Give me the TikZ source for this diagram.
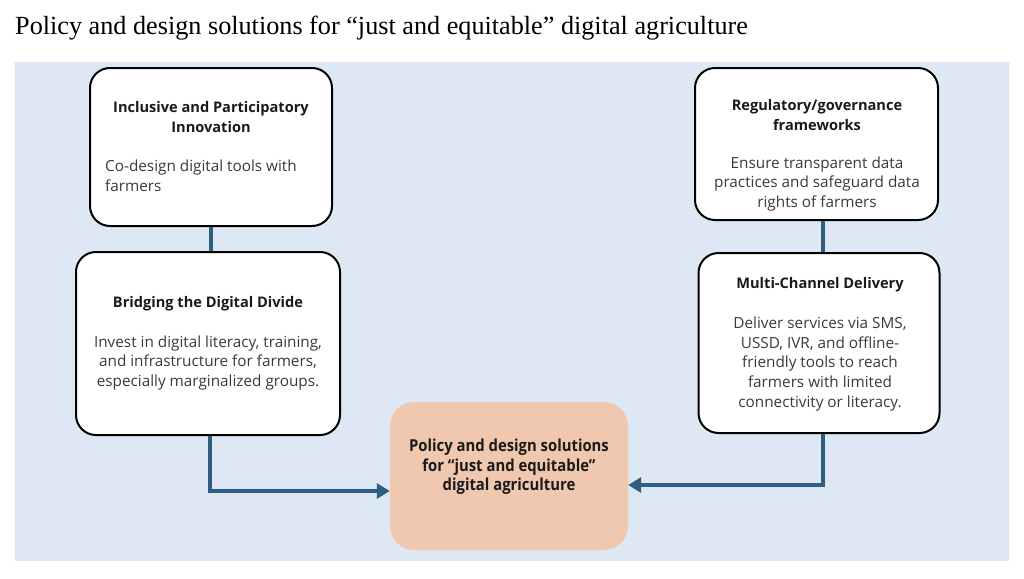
\documentclass[tikz,border=0pt]{standalone}
\usepackage{fontspec}
\setmainfont{Liberation Serif}
\newfontfamily\boxfont{Open Sans}
\newfontfamily\narrowfont{Open Sans}[FakeStretch=0.9]
\usetikzlibrary{arrows.meta}
\definecolor{bgblue}{HTML}{DEE8F4}
\definecolor{linkblue}{HTML}{2E5E80}
\definecolor{peach}{HTML}{F0C8AF}
\definecolor{bodygray}{HTML}{3A3A3A}
\definecolor{headblack}{HTML}{1A1A1A}
\tikzset{
  card/.style={draw=black, line width=2pt, fill=white, rounded corners=20pt, inner sep=0pt},
  hubbox/.style={fill=peach, rounded corners=24pt, inner sep=0pt},
  headtxt/.style={font=\boxfont\bfseries\fontsize{14.6}{19.5}\selectfont, text=headblack, align=center, inner sep=0pt},
  bodytxt/.style={font=\boxfont\fontsize{15.3}{19.6}\selectfont, text=bodygray, align=center, inner sep=0pt},
  hubtxt/.style={font=\narrowfont\bfseries\fontsize{16.5}{19.5}\selectfont, text=headblack, align=center, inner sep=0pt},
  link/.style={draw=linkblue, line width=4pt},
  linkarrow/.style={link, -{Triangle[length=13pt,width=15pt]}}
}
\begin{document}
\begin{tikzpicture}[x=1pt,y=-1pt]
\useasboundingbox (0,0) rectangle (1024,578);
\fill[white] (0,0) rectangle (1024,578);
\node[anchor=base west, inner sep=0pt, font=\fontsize{26.2}{30}\selectfont] (title) at (15,35)
  {Policy and design solutions for “just and equitable” digital agriculture};
\node[fill=bgblue, inner sep=0pt, minimum width=994pt, minimum height=499pt] (panel) at (512,311.5) {};

\node[card, minimum width=242pt, minimum height=158pt] (box1) at (211,147) {};
\node[card, minimum width=264pt, minimum height=183pt] (box2) at (208,343.5) {};
\node[card, minimum width=243pt, minimum height=152pt] (box3) at (816.5,144) {};
\node[card, minimum width=241pt, minimum height=180pt] (box4) at (819,343) {};
\node[hubbox, minimum width=238pt, minimum height=148pt] (hub) at (509,476) {};

\draw[link] (box1.south) -- (box1.south |- box2.north);
\draw[link] ([xshift=6.5pt]box3.south) -- ([xshift=6.5pt]box3.south |- box4.north);
\draw[linkarrow] ([xshift=2pt]box2.south) |- ([yshift=-15pt]hub.west);
\draw[linkarrow] ([xshift=4pt]box4.south) |- ([yshift=-9pt]hub.east);

\node[headtxt] (h1) at (211,117) {Inclusive and Participatory\\Innovation};
\node[bodytxt, align=left, anchor=west] (b1) at (105,176) {Co-design digital tools with\\farmers};

\node[headtxt] (h2) at (208,304) {Bridging the Digital Divide};
\node[bodytxt] (b2) at (208,363) {Invest in digital literacy, training,\\and infrastructure for farmers,\\especially marginalized groups.};

\node[headtxt] (h3) at (817,115) {Regulatory/governance\\frameworks};
\node[bodytxt] (b3) at (817,184) {Ensure transparent data\\practices and safeguard data\\rights of farmers};

\node[headtxt] (h4) at (820,285) {Multi-Channel Delivery};
\node[bodytxt] (b4) at (820,364) {Deliver services via SMS,\\USSD, IVR, and offline-\\friendly tools to reach\\farmers with limited\\connectivity or literacy.};

\node[hubtxt] (ht) at (509,467) {Policy and design solutions\\for “just and equitable”\\digital agriculture};
\end{tikzpicture}
\end{document}
